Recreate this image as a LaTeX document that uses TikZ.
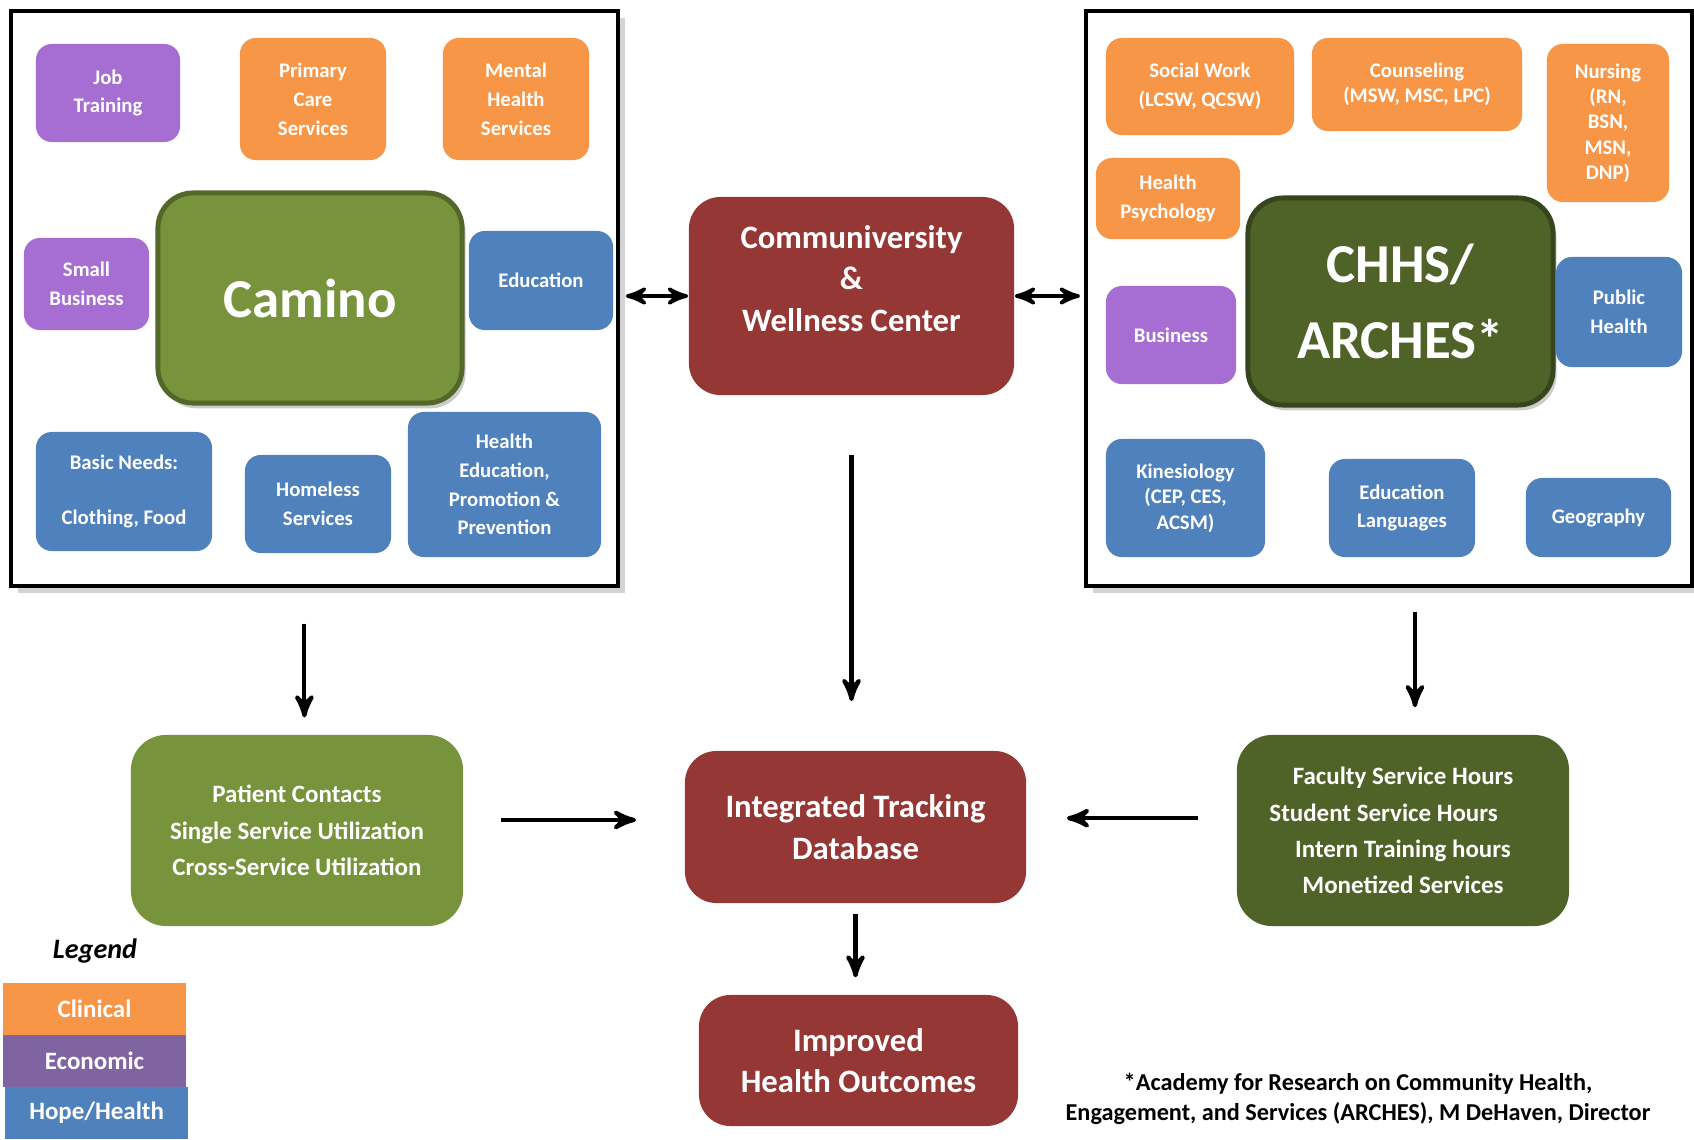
\documentclass[tikz,border=0pt]{standalone}
\usepackage{fontspec}
\setmainfont{Carlito}
\usepackage{tikz}
\usetikzlibrary{shadows, arrows, positioning}
\definecolor{my_orange}{RGB}{247, 150, 70}
\definecolor{my_purple}{RGB}{166, 110, 210}
\definecolor{my_violet}{RGB}{128, 100, 162}
\definecolor{my_blue}{RGB}{79, 129, 189}
\definecolor{my_green}{RGB}{119, 147, 60}
\definecolor{my_darkgreen}{RGB}{79, 98, 40}
\definecolor{my_red}{RGB}{149, 55, 53}
\newcommand{\tiletext}{\fontsize{5.9pt}{8.2pt}\selectfont\bfseries}
\newcommand{\tighttext}{\fontsize{5.9pt}{7.2pt}\selectfont\bfseries}
\newcommand{\hubtext}{\fontsize{15.6pt}{21.6pt}\selectfont\bfseries}
\newcommand{\flowtext}{\fontsize{9.3pt}{11.8pt}\selectfont\bfseries}
\newcommand{\listtext}{\fontsize{7.1pt}{10.3pt}\selectfont\bfseries}
\newcommand{\notetext}{\fontsize{6.9pt}{8.5pt}\selectfont\bfseries}
\tikzset {
  outerframe/.style = {draw, line width=1.3pt, fill=white, rectangle, drop shadow={shadow xshift=2pt, shadow yshift=-2pt, opacity=0.35}},
  tile/.style = {rectangle, rounded corners=4.5pt, text=white, align=center, inner sep=0pt, font=\tiletext},
  clinical/.style = {tile, fill=my_orange},
  economic/.style = {tile, fill=my_purple},
  hope/.style = {tile, fill=my_blue},
  hub/.style = {rectangle, rounded corners=10pt, text=white, align=center, font=\hubtext, line width=1.4pt, drop shadow={shadow xshift=1pt, shadow yshift=-1.5pt, opacity=0.4}},
  flow/.style = {rectangle, rounded corners=9pt, fill=my_red, text=white, align=center, font=\flowtext},
  result/.style = {rectangle, rounded corners=10pt, text=white, align=center, font=\listtext},
  legendkey/.style = {rectangle, text=white, font=\listtext, minimum width=1.83cm, minimum height=0.52cm, inner sep=0pt, outer sep=0pt},
  line/.style = {->, line width=1.2pt, >=stealth'},
}

\begin{document}
\begin{tikzpicture}[x=0.01cm, y=-0.01cm]
    \useasboundingbox (0,0) rectangle (1694,1139);

    % Camino side
    \node[outerframe, minimum width=6.07cm, minimum height=5.75cm, name=caminobox] (caminobox) at (314.5,298.5) {};
    \node[economic, minimum width=1.44cm, minimum height=0.98cm] (job) at (108,93) {Job\\Training};
    \node[clinical, minimum width=1.46cm, minimum height=1.22cm] (primary) at (313,99) {Primary\\Care\\Services};
    \node[clinical, minimum width=1.46cm, minimum height=1.22cm] (mental) at (516,99) {Mental\\Health\\Services};
    \node[hub, fill=my_green, draw=my_green!70!black, minimum width=3.04cm, minimum height=2.10cm, name=camino] (camino) at (310,298) {Camino};
    \node[economic, minimum width=1.25cm, minimum height=0.92cm] (smallbiz) at (86.5,284) {Small\\Business};
    \node[hope, minimum width=1.44cm, minimum height=0.99cm] (educ) at (541,280.5) {Education};
    \node[hope, minimum width=1.76cm, minimum height=1.19cm] (basic) at (124,491.5) {Basic Needs:\\[7.2pt]Clothing, Food};
    \node[hope, minimum width=1.46cm, minimum height=0.98cm] (homeless) at (318,504) {Homeless\\Services};
    \node[hope, minimum width=1.93cm, minimum height=1.45cm] (hepp) at (504.5,484.5) {Health\\Education,\\Promotion \&\\Prevention};

    % CHHS side
    \node[outerframe, minimum width=6.06cm, minimum height=5.75cm, name=chhsbox] (chhsbox) at (1389,298.5) {};
    \node[clinical, minimum width=1.88cm, minimum height=0.97cm] (socialwork) at (1200,86.5) {Social Work\\(LCSW, QCSW)};
    \node[clinical, font=\tighttext, minimum width=2.10cm, minimum height=0.93cm] (counseling) at (1417,84.5) {Counseling\\(MSW, MSC, LPC)};
    \node[clinical, font=\tighttext, minimum width=1.22cm, minimum height=1.58cm] (nursing) at (1608,123) {Nursing\\(RN,\\BSN,\\MSN,\\DNP)};
    \node[clinical, minimum width=1.44cm, minimum height=0.81cm] (healthpsych) at (1168,198.5) {Health\\Psychology};
    \node[hub, fill=my_darkgreen, draw=my_darkgreen!70!black, minimum width=3.05cm, minimum height=2.07cm, name=chhs] (chhs) at (1400.5,301.5) {CHHS/\\ARCHES*};
    \node[economic, minimum width=1.30cm, minimum height=0.98cm] (business) at (1171,335) {Business};
    \node[hope, minimum width=1.26cm, minimum height=1.10cm] (publichealth) at (1619,312) {Public\\Health};
    \node[hope, font=\tighttext, minimum width=1.59cm, minimum height=1.18cm] (kines) at (1185.5,498) {Kinesiology\\(CEP, CES,\\ACSM)};
    \node[hope, minimum width=1.46cm, minimum height=0.98cm] (edulang) at (1402,508) {Education\\Languages};
    \node[hope, minimum width=1.45cm, minimum height=0.79cm] (geography) at (1598.5,517.5) {Geography};

    % flow
    \node[flow, minimum width=3.25cm, minimum height=1.98cm, name=comm] (comm) at (851.5,296) {Communiversity\\\&\\Wellness Center\\[-1.6pt]\mbox{}};
    \node[flow, minimum width=3.41cm, minimum height=1.52cm, name=itd] (itd) at (855.5,827) {Integrated Tracking\\Database};
    \node[flow, minimum width=3.19cm, minimum height=1.31cm, name=outcomes] (outcomes) at (858.5,1060.5) {Improved\\Health Outcomes};
    \node[result, fill=my_green, minimum width=3.32cm, minimum height=1.91cm, name=patient] (patient) at (297,830.5) {Patient Contacts\\Single Service Utilization\\Cross-Service Utilization};
    \node[result, fill=my_darkgreen, minimum width=3.32cm, minimum height=1.91cm, name=faculty] (faculty) at (1403,830.5) {Faculty Service Hours\\Student Service Hours\rule{11pt}{0pt}\\Intern Training hours\\Monetized Services};

    \draw[line, <->, line width=1.05pt, shorten <=1.5pt] (comm.west -| caminobox.east) -- (comm.west);
    \draw[line, <->, line width=1.05pt, shorten >=1pt] (comm.east) -- (comm.east -| chhsbox.west);
    \draw[line, shorten <=16.8pt, shorten >=14pt] (comm.south) -- (comm.south |- itd.north);
    \draw[line, shorten <=2.8pt, shorten >=4.8pt] (itd.south) -- (itd.south |- outcomes.north);
    \draw[line, shorten <=10pt, shorten >=4.8pt] ([xshift=2.1pt]patient.north |- caminobox.south) -- ([xshift=2.1pt]patient.north);
    \draw[line, shorten <=6.8pt, shorten >=7.7pt] ([xshift=3.4pt]faculty.north |- chhsbox.south) -- ([xshift=3.4pt]faculty.north);
    \draw[line, shorten <=10.5pt, shorten >=13.7pt] ([yshift=3pt]patient.east) -- ([yshift=3pt]patient.east -| itd.west);
    \draw[line, shorten <=10.8pt, shorten >=11.4pt] ([yshift=3.5pt]faculty.west) -- ([yshift=3.5pt]faculty.west -| itd.east);

    % legend and note
    \node[font=\fontsize{8pt}{10pt}\selectfont\bfseries\itshape] (legendtitle) at (95,951) {Legend};
    \node[legendkey, fill=my_orange] (keyclinical) at (94.5,1009) {Clinical};
    \node[legendkey, fill=my_violet, below=0pt of keyclinical] (keyeconomic) {Economic};
    \node[legendkey, fill=my_blue, below=0pt of keyeconomic, xshift=0.6pt] (keyhope) {Hope/Health};
    \node[font=\notetext, align=center] (note) at (1358,1099) {*Academy for Research on Community Health,\\Engagement, and Services (ARCHES), M DeHaven, Director};

\end{tikzpicture}
\end{document}
